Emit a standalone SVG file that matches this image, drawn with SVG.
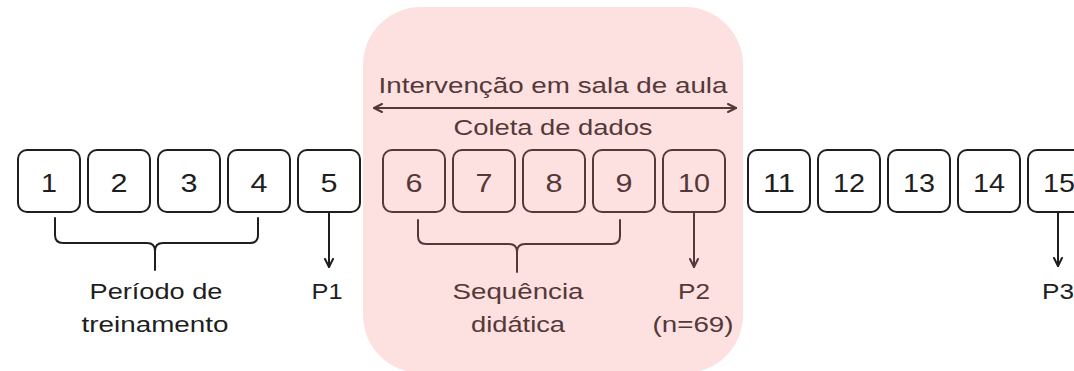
<svg xmlns="http://www.w3.org/2000/svg" width="1074" height="371" viewBox="0 0 1074 371">
<style>
  .bg{fill:#fde0e0;stroke:none}
  .box{fill:none;stroke:#1e1e1e;stroke-width:2}
  .box.in{stroke:#553838}
  .num{font-family:"Liberation Sans",Arial,sans-serif;font-size:25px;fill:#1e1e1e;text-anchor:middle}
  .num.in{fill:#553838}
  .lbl{font-family:"Liberation Sans",Arial,sans-serif;font-size:22.5px;fill:#1e1e1e;text-anchor:middle}
  .lbl.in{fill:#553838}
  .ln{fill:none;stroke:#1e1e1e;stroke-width:2;stroke-linecap:round;stroke-linejoin:round}
  .ln.in{stroke:#553838}
</style>
<defs>
  <marker id="ah" viewBox="0 0 10 10" refX="9" refY="5" markerWidth="10" markerHeight="10" markerUnits="userSpaceOnUse" orient="auto-start-reverse">
    <path d="M1,1 L9,5 L1,9" fill="none" stroke="#1e1e1e" stroke-width="2" stroke-linecap="round" stroke-linejoin="round"/>
  </marker>
  <marker id="ahp" viewBox="0 0 10 10" refX="9" refY="5" markerWidth="10" markerHeight="10" markerUnits="userSpaceOnUse" orient="auto-start-reverse">
    <path d="M1,1 L9,5 L1,9" fill="none" stroke="#553838" stroke-width="2" stroke-linecap="round" stroke-linejoin="round"/>
  </marker>
</defs>

<g id="intervencao">
  <rect class="bg" x="363" y="7" width="380" height="366" rx="58"/>
  <text class="lbl in" x="553" y="93" font-size="23.5" textLength="349" lengthAdjust="spacingAndGlyphs">Intervenção em sala de aula</text>
  <text class="lbl in" x="553" y="135" textLength="199" lengthAdjust="spacingAndGlyphs">Coleta de dados</text>
</g>

<g id="n1"><rect class="box" x="18" y="150" width="62" height="62" rx="9"/><text class="num" x="49" y="192" textLength="16" lengthAdjust="spacingAndGlyphs">1</text></g>
<g id="n2"><rect class="box" x="88" y="150" width="62" height="62" rx="9"/><text class="num" x="119" y="192" textLength="17" lengthAdjust="spacingAndGlyphs">2</text></g>
<g id="n3"><rect class="box" x="158" y="150" width="62" height="62" rx="9"/><text class="num" x="189" y="192" textLength="17" lengthAdjust="spacingAndGlyphs">3</text></g>
<g id="n4"><rect class="box" x="228" y="150" width="62" height="62" rx="9"/><text class="num" x="259" y="192" textLength="17" lengthAdjust="spacingAndGlyphs">4</text></g>
<g id="n5"><rect class="box" x="298" y="150" width="62" height="62" rx="9"/><text class="num" x="329" y="192" textLength="17" lengthAdjust="spacingAndGlyphs">5</text></g>
<g id="n6"><rect class="box in" x="383" y="150" width="62" height="62" rx="9"/><text class="num in" x="414" y="192" textLength="17" lengthAdjust="spacingAndGlyphs">6</text></g>
<g id="n7"><rect class="box in" x="453" y="150" width="62" height="62" rx="9"/><text class="num in" x="484" y="192" textLength="17" lengthAdjust="spacingAndGlyphs">7</text></g>
<g id="n8"><rect class="box in" x="523" y="150" width="62" height="62" rx="9"/><text class="num in" x="554" y="192" textLength="17" lengthAdjust="spacingAndGlyphs">8</text></g>
<g id="n9"><rect class="box in" x="593" y="150" width="62" height="62" rx="9"/><text class="num in" x="624" y="192" textLength="17" lengthAdjust="spacingAndGlyphs">9</text></g>
<g id="n10"><rect class="box in" x="663" y="150" width="62" height="62" rx="9"/><text class="num in" x="694" y="192" textLength="32" lengthAdjust="spacingAndGlyphs">10</text></g>
<g id="n11"><rect class="box" x="748" y="150" width="62" height="62" rx="9"/><text class="num" x="779" y="192" textLength="32" lengthAdjust="spacingAndGlyphs">11</text></g>
<g id="n12"><rect class="box" x="818" y="150" width="62" height="62" rx="9"/><text class="num" x="849" y="192" textLength="32" lengthAdjust="spacingAndGlyphs">12</text></g>
<g id="n13"><rect class="box" x="888" y="150" width="62" height="62" rx="9"/><text class="num" x="919" y="192" textLength="32" lengthAdjust="spacingAndGlyphs">13</text></g>
<g id="n14"><rect class="box" x="958" y="150" width="62" height="62" rx="9"/><text class="num" x="989" y="192" textLength="32" lengthAdjust="spacingAndGlyphs">14</text></g>
<g id="n15"><rect class="box" x="1028" y="150" width="62" height="62" rx="9"/><text class="num" x="1059" y="192" textLength="32" lengthAdjust="spacingAndGlyphs">15</text></g>

<g id="labels">
  <text class="lbl" x="156" y="299" textLength="133" lengthAdjust="spacingAndGlyphs">Período de</text>
  <text class="lbl" x="155" y="332" textLength="147" lengthAdjust="spacingAndGlyphs">treinamento</text>
  <text class="lbl" x="327" y="299" textLength="31" lengthAdjust="spacingAndGlyphs">P1</text>
  <text class="lbl in" x="518" y="299" textLength="131" lengthAdjust="spacingAndGlyphs">Sequência</text>
  <text class="lbl in" x="518" y="332" textLength="94" lengthAdjust="spacingAndGlyphs">didática</text>
  <text class="lbl in" x="694" y="299" textLength="32" lengthAdjust="spacingAndGlyphs">P2</text>
  <text class="lbl in" x="693" y="332" textLength="81" lengthAdjust="spacingAndGlyphs">(n=69)</text>
  <text class="lbl" x="1058" y="299" textLength="32" lengthAdjust="spacingAndGlyphs">P3</text>
</g>

<g id="connectors">
  <line class="ln in" x1="374" y1="108" x2="736" y2="108" marker-start="url(#ahp)" marker-end="url(#ahp)"/>
  <path class="ln" d="M55,218 V235 Q55,243 63,243 H147 Q155,243 155,251 V270 M155,251 Q155,243 163,243 H250 Q258,243 258,235 V218"/>
  <path class="ln in" d="M418,220 V236 Q418,244 426,244 H509 Q517,244 517,252 V272 M517,252 Q517,244 525,244 H612 Q620,244 620,236 V220"/>
  <line class="ln" x1="329" y1="212" x2="329" y2="267" marker-end="url(#ah)"/>
  <line class="ln in" x1="694" y1="212" x2="694" y2="267" marker-end="url(#ahp)"/>
  <line class="ln" x1="1058" y1="212" x2="1058" y2="266" marker-end="url(#ah)"/>
</g>
</svg>
